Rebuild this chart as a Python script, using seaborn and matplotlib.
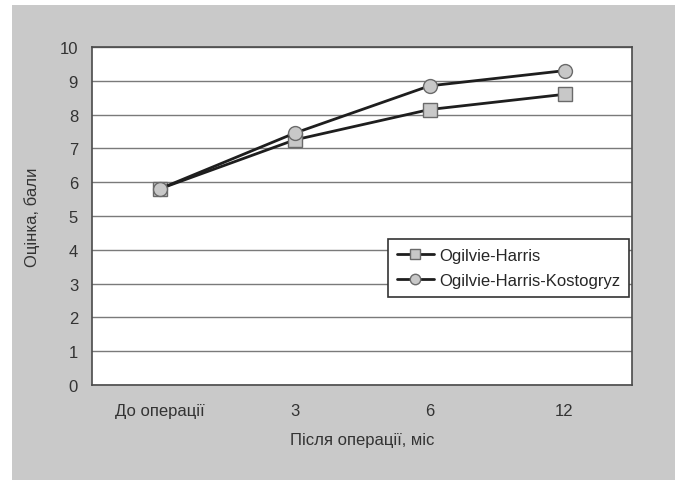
import seaborn as sns
import matplotlib.pyplot as plt
import pandas as pd
from matplotlib.patches import Rectangle
from matplotlib.ticker import FixedLocator

# дані з графіка
periods = ['До операції', '3', '6', '12']
ogilvie_harris = [5.8, 7.25, 8.15, 8.6]
ogilvie_harris_kostogryz = [5.8, 7.45, 8.85, 9.3]
series_names = ['Ogilvie-Harris', 'Ogilvie-Harris-Kostogryz']

df = pd.DataFrame({
    'period': periods * 2,
    'score': ogilvie_harris + ogilvie_harris_kostogryz,
    'method': [series_names[0]] * 4 + [series_names[1]] * 4,
})

sns.set_style('white')
plt.rcParams['font.family'] = ['Liberation Sans', 'DejaVu Sans']

bg = '#c9c9c9'
fig = plt.figure(figsize=(6.75, 4.81), dpi=100)
fig.patch.set_facecolor('white')
# сірий фон з білою смугою зліва і зверху
fig.patches.append(Rectangle((12 / 675, 0), 1, 1 - 6 / 481, transform=fig.transFigure,
                             facecolor=bg, edgecolor='none', zorder=-1))
ax = fig.add_axes([92 / 675, 1 - 386 / 481, 540 / 675, 338 / 481])
ax.set_facecolor('white')

sns.lineplot(data=df, x='period', y='score', hue='method', style='method',
             markers={series_names[0]: 's', series_names[1]: 'o'}, dashes=False,
             palette={series_names[0]: '#1e1e1e', series_names[1]: '#1e1e1e'},
             linewidth=2.0, markersize=10, markerfacecolor='#c8c8c8',
             markeredgecolor='#6a6a6a', markeredgewidth=1.0, ax=ax, sort=False)

ax.set_xlim(-0.5, 3.5)
ax.set_ylim(0, 10)
ax.set_yticks(range(0, 11))
ax.yaxis.grid(True, color='#7a7a7a', linewidth=1.0)
ax.set_axisbelow(True)

fs = 12
ax.set_xticks(range(4))
ax.set_xticklabels(periods)
ax.xaxis.set_minor_locator(FixedLocator([-0.5, 0.5, 1.5, 2.5, 3.5]))
ax.tick_params(axis='x', which='major', length=0, pad=13, labelsize=fs, colors='#333333')
ax.tick_params(axis='x', which='minor', length=5, width=1, color='#444444', direction='out')
ax.tick_params(axis='y', length=6, width=1, color='#444444', direction='out',
               labelsize=fs, labelcolor='#333333', pad=4)

for s in ax.spines.values():
    s.set_color('#4a4a4a')
    s.set_linewidth(1.2)

ax.set_xlabel('Після операції, міс', fontsize=fs, color='#333333', labelpad=10)
ax.set_ylabel('Оцінка, бали', fontsize=fs, color='#333333', labelpad=14)

leg = ax.legend(loc='upper left', bbox_to_anchor=(0.548, 0.432), fontsize=12,
                frameon=True, fancybox=False, edgecolor='#333333', framealpha=1,
                handlelength=2.2, borderpad=0.55, labelspacing=0.6, handletextpad=0.3,
                markerscale=0.75, borderaxespad=0)
leg.get_frame().set_linewidth(1.2)
leg.set_title(None)

fig.savefig('out.png', dpi=100, facecolor=fig.get_facecolor())
